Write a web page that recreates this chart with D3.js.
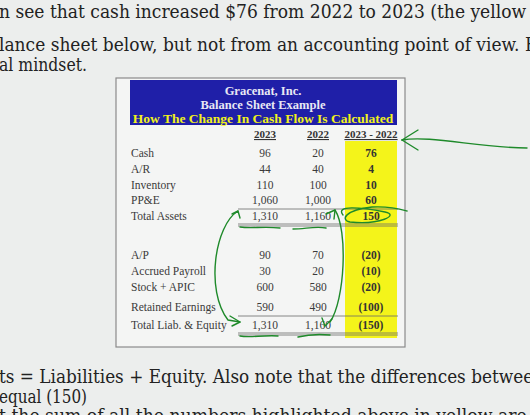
<!DOCTYPE html><html><head><meta charset="utf-8"><script src="https://cdn.jsdelivr.net/npm/d3@7"></script>
<style>body{margin:0;background:#eceeed}</style></head><body><svg id="c" width="530" height="415"></svg>
<script>
const assetLabels=["Cash","A/R","Inventory","PP&E","Total Assets"];
const assets2023=["96","44","110","1,060","1,310"];
const assets2022=["20","40","100","1,000","1,160"];
const assetsDiff=["76","4","10","60","150"];
const liabLabels=["A/P","Accrued Payroll","Stock + APIC","Retained Earnings","Total Liab. & Equity"];
const liab2023=["90","30","600","590","1,310"];
const liab2022=["70","20","580","490","1,160"];
const liabDiff=["(20)","(10)","(20)","(100)","(150)"];
const colHeads=["2023","2022","2023 - 2022"];
const titles=["Gracenat, Inc.","Balance Sheet Example","How The Change In Cash Flow Is Calculated"];
const topText=[["n see that cash increased $76 from 2022 to 2023 (the yellow hig",12,560],["lance sheet below, but not from an accounting point of view.  Ex",45,548],["al mindset.",65,88]];
const botText=[["ts = Liabilities + Equity.  Also note that the differences between",377,545],["equal (150)",397,88],["t the sum of all the numbers highlighted above in yellow are t",416,540]];

const svg=d3.select("#c");
svg.append("rect").attr("width",530).attr("height",415).attr("fill","#eceeed");
topText.concat(botText).forEach(([t,y,w])=>svg.append("text").attr("x",-1).attr("y",y+6).attr("font-family","'DejaVu Serif',serif").attr("font-size",18.5).attr("fill","#222").attr("textLength",w).attr("lengthAdjust","spacingAndGlyphs").text(t));
svg.append("rect").attr("x",116).attr("y",78).attr("width",289).attr("height",269).attr("fill","#f4f5f4").attr("stroke","#8a8a8a").attr("stroke-width",1.2);
svg.append("rect").attr("x",130).attr("y",80).attr("width",267).attr("height",45).attr("fill","#1f1fa8");
const tf="'Liberation Serif','Times New Roman',serif";
titles.forEach((t,i)=>svg.append("text").attr("x",263).attr("y",95+i*14).attr("text-anchor","middle").attr("font-family",tf).attr("font-weight","bold").attr("font-size",i==2?13.5:12.5).attr("fill",i==2?"#f2f21a":"#e8e8f4").text(t));
const xs={"2023":265,"2022":318,"2023 - 2022":371};
svg.append("rect").attr("x",345).attr("y",141).attr("width",52).attr("height",197).attr("fill","#f4f41a");
colHeads.forEach(h=>{svg.append("text").attr("x",xs[h]).attr("y",138).attr("text-anchor","middle").attr("font-family",tf).attr("font-weight","bold").attr("font-size",11).attr("fill","#333").attr("text-decoration","underline").text(h);});
const yA=d3.scalePoint().domain(assetLabels).range([157,220]);
function block(labels,a,b,d,ys){
 labels.forEach((l,i)=>{
  const yy=ys(l,i);
  const g=svg.append("g").attr("font-family",tf).attr("font-size",11.5).attr("fill","#3a3a3a");
  g.append("text").attr("x",131).attr("y",yy).text(l);
  g.append("text").attr("x",xs["2023"]).attr("y",yy).attr("text-anchor","middle").text(a[i]);
  g.append("text").attr("x",xs["2022"]).attr("y",yy).attr("text-anchor","middle").text(b[i]);
  g.append("text").attr("x",xs["2023 - 2022"]).attr("y",yy).attr("text-anchor","middle").attr("font-weight","bold").attr("fill","#333").text(d[i]);
 });
}
const liabY=[259,275,291,311,329];
block(assetLabels,assets2023,assets2022,assetsDiff,l=>yA(l));
block(liabLabels,liab2023,liab2022,liabDiff,(l,i)=>liabY[i]);
[[209,224,226],[316,333,335]].forEach(r=>r.forEach(y=>svg.append("line").attr("x1",238).attr("x2",398).attr("y1",y).attr("y2",y).attr("stroke","#6a6a6a").attr("stroke-width",0.8)));
const gp=svg.append("g").attr("fill","none").attr("stroke","#1e8a2a").attr("stroke-width",1.4).attr("stroke-linecap","round");
const paths=[
"M527,148 C480,148 430,135 402,140","M402,140 L418,130","M402,140 L418,150",
"M343,215 C335,205 360,207 385,212 C400,215 380,225 350,222 C340,220 345,210 372,207 C390,206 400,209 407,211",
"M240,227 C252,229 262,226 280,228","M293,229 C305,229 315,226 326,228",
"M238,211 C215,225 205,290 228,320 L240,322","M238,211 L232,214 M238,211 L240,218","M240,322 L230,316 M240,322 L232,326",
"M335,210 C348,230 345,300 330,322","M335,210 L326,214 M335,210 L334,219","M322,318 L325,326 L332,319",
"M240,336 C250,338 262,335 278,336","M298,337 C310,334 320,334 330,335"];
paths.forEach(p=>gp.append("path").attr("d",p));
</script></body></html>
